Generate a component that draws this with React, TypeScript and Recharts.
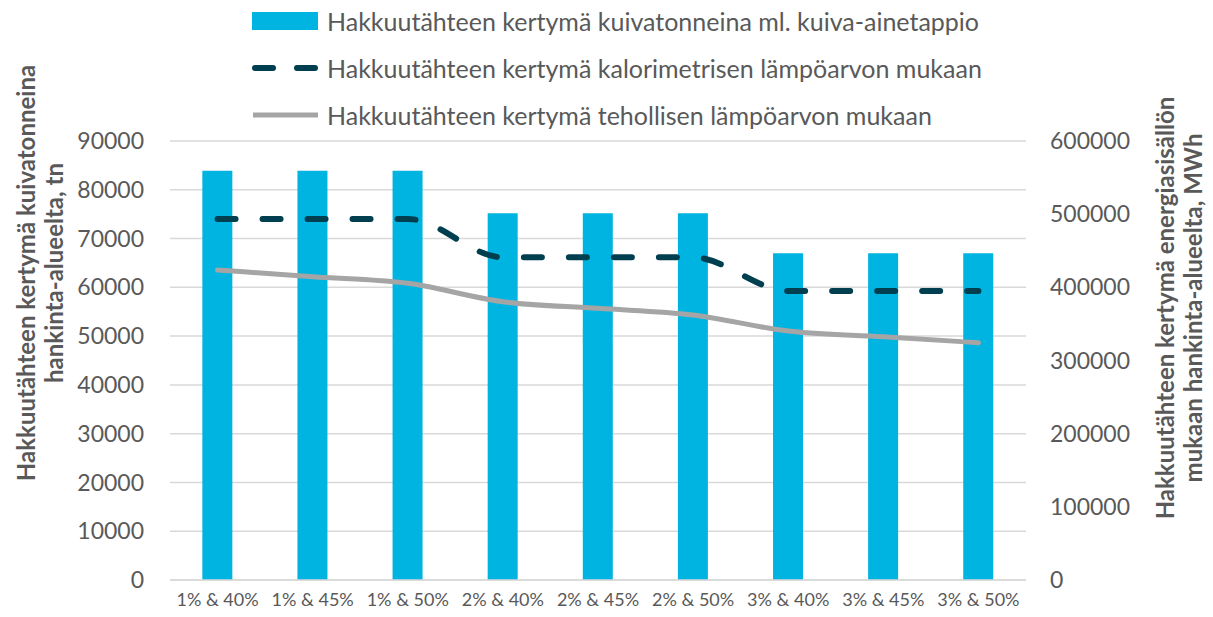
import { ComposedChart, Bar, Line, XAxis, YAxis, CartesianGrid, Legend } from "recharts";

const categories = [
  "1% & 40%",
  "1% & 45%",
  "1% & 50%",
  "2% & 40%",
  "2% & 45%",
  "2% & 50%",
  "3% & 40%",
  "3% & 45%",
  "3% & 50%",
];
const dryTonnes = [83900, 83900, 83900, 75200, 75200, 75200, 67000, 67000, 67000];
const calorimetric = [493500, 493500, 493500, 441000, 441000, 441000, 395000, 395000, 395000];
const effective = [423700, 414500, 405500, 380300, 371300, 362200, 340300, 332500, 324300];
const leftTicks = [0, 10000, 20000, 30000, 40000, 50000, 60000, 70000, 80000, 90000];
const rightTicks = [0, 100000, 200000, 300000, 400000, 500000, 600000];

const seriesNames = {
  bar: "Hakkuutähteen kertymä kuivatonneina ml. kuiva-ainetappio",
  calo: "Hakkuutähteen kertymä kalorimetrisen lämpöarvon mukaan",
  eff: "Hakkuutähteen kertymä tehollisen lämpöarvon mukaan",
};

const data = categories.map((c, i) => ({
  name: c,
  bar: dryTonnes[i],
  calo: calorimetric[i],
  eff: effective[i],
}));

const FONT = "Lato, 'Open Sans', sans-serif";
const TXT = "#595959";
const BAR = "#00b4e1";
const DARK = "#003f4f";
const GREY = "#a5a5a5";

const rowStyle = { display: "flex", alignItems: "center", height: 47 };

const LegendBox = () => (
  <div style={{ fontFamily: FONT, fontSize: 25, color: TXT, whiteSpace: "nowrap" }}>
    <div style={rowStyle}>
      <svg width={75} height={20}>
        <rect x={0} y={1} width={66} height={18} fill={BAR} />
      </svg>
      <span>{seriesNames.bar}</span>
    </div>
    <div style={rowStyle}>
      <svg width={75} height={20}>
        <line x1={3} y1={10} x2={64} y2={10} stroke={DARK} strokeWidth={6} strokeLinecap="round" strokeDasharray="18 24" />
      </svg>
      <span>{seriesNames.calo}</span>
    </div>
    <div style={rowStyle}>
      <svg width={75} height={20}>
        <line x1={1} y1={10} x2={66} y2={10} stroke={GREY} strokeWidth={5} />
      </svg>
      <span>{seriesNames.eff}</span>
    </div>
  </div>
);

const AxisTitle = ({ lines, cx, cy, gap }: { lines: string[]; cx: number; cy: number; gap: number }) => (
  <g>
    {lines.map((t, i) => (
      <text
        key={i}
        x={cx + i * gap}
        y={cy}
        transform={`rotate(-90 ${cx + i * gap} ${cy})`}
        textAnchor="middle"
        dominantBaseline="central"
        fontFamily={FONT}
        fontWeight="bold"
        fontSize={24}
        fill={TXT}
      >
        {t}
      </text>
    ))}
  </g>
);

export default function App() {
  return (
    <div style={{ position: "absolute", left: 0, top: 0, background: "#fff" }}>
      <ComposedChart
        width={1213}
        height={617}
        data={data}
        margin={{ top: 141, right: 0, left: 0, bottom: 0 }}
        barCategoryGap="34%"
      >
        <CartesianGrid yAxisId="left" vertical={false} stroke="#d9d9d9" strokeWidth={1.5} />
        <XAxis
          dataKey="name"
          height={37}
          tickLine={false}
          axisLine={{ stroke: "#d9d9d9", strokeWidth: 1.5 }}
          tick={{ fill: TXT, fontSize: 18, fontFamily: FONT }}
          tickSize={0}
          tickMargin={13}
          interval={0}
        />
        <YAxis
          yAxisId="left"
          width={170}
          domain={[0, 90000]}
          ticks={leftTicks}
          tickLine={false}
          axisLine={false}
          tickSize={0}
          tickMargin={26}
          tick={{ fill: TXT, fontSize: 23, fontFamily: FONT }}
          label={() => (
            <AxisTitle lines={["Hakkuutähteen kertymä kuivatonneina", "hankinta-alueelta, tn"]} cx={25} cy={273} gap={28} />
          )}
        />
        <YAxis
          yAxisId="right"
          orientation="right"
          width={187}
          domain={[0, 600000]}
          ticks={rightTicks}
          tickLine={false}
          axisLine={false}
          tickSize={0}
          tickMargin={24}
          tick={{ fill: TXT, fontSize: 23, fontFamily: FONT, textAnchor: "start" }}
          label={() => (
            <AxisTitle
              lines={["Hakkuutähteen kertymä energiasisällön", "mukaan hankinta-alueelta, MWh"]}
              cx={1164}
              cy={308}
              gap={28}
            />
          )}
        />
        <Legend
          layout="horizontal"
          verticalAlign="middle"
          align="center"
          wrapperStyle={{ top: -3, left: 252, width: 900, height: 140 }}
          content={() => <LegendBox />}
        />
        <Bar yAxisId="left" dataKey="bar" name={seriesNames.bar} fill={BAR} isAnimationActive={false} />
        <Line
          yAxisId="right"
          dataKey="calo"
          name={seriesNames.calo}
          type="monotone"
          stroke={DARK}
          strokeWidth={6}
          strokeLinecap="round"
          strokeDasharray="18 27"
          dot={false}
          activeDot={false}
          isAnimationActive={false}
        />
        <Line
          yAxisId="right"
          dataKey="eff"
          name={seriesNames.eff}
          type="monotone"
          stroke={GREY}
          strokeWidth={5}
          strokeLinecap="round"
          dot={false}
          activeDot={false}
          isAnimationActive={false}
        />
      </ComposedChart>
    </div>
  );
}
